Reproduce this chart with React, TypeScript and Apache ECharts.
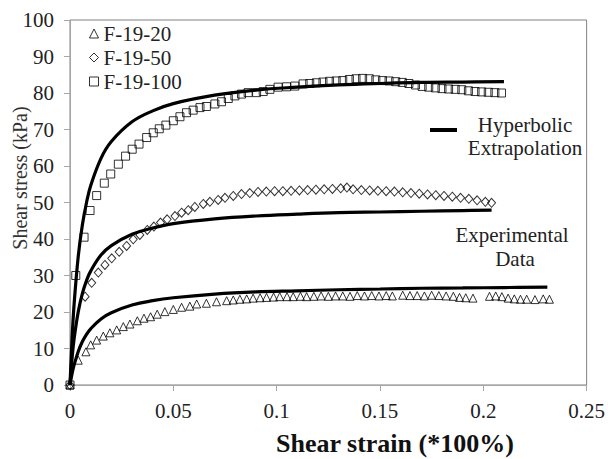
import React, { useEffect, useRef } from "react";
import * as echarts from "echarts";

// Shear strain (fraction) / shear stress (kPa) test readings
const f19_20: [number, number][] = [
  [0, 0], [0.004, 6.8], [0.0077, 9.1], [0.01, 11.0], [0.0129, 12.3], [0.0161, 13.4],
  [0.0193, 14.3], [0.0226, 15.1], [0.0258, 16.0], [0.029, 16.7], [0.0326, 17.6],
  [0.0358, 18.3], [0.039, 18.7], [0.0422, 19.4], [0.0459, 20.1], [0.05, 20.7],
  [0.054, 21.3], [0.058, 21.6], [0.0613, 22.2], [0.066, 22.4], [0.0709, 22.8],
  [0.0758, 23.1], [0.079, 23.3], [0.0822, 23.5], [0.0855, 23.6], [0.0886, 23.8],
  [0.092, 23.9], [0.0951, 24.0], [0.0985, 24.1], [0.1015, 24.2], [0.105, 24.2],
  [0.108, 24.2], [0.1115, 24.3], [0.1145, 24.2], [0.118, 24.3], [0.1215, 24.4],
  [0.125, 24.3], [0.1285, 24.4], [0.132, 24.4], [0.1355, 24.3], [0.139, 24.5],
  [0.1425, 24.4], [0.146, 24.5], [0.1495, 24.4], [0.153, 24.5], [0.156, 24.4],
  [0.161, 24.6], [0.1645, 24.5], [0.168, 24.5], [0.1715, 24.4], [0.175, 24.6],
  [0.1785, 24.5], [0.182, 24.4], [0.1855, 24.3], [0.1885, 24.0], [0.1915, 23.9],
  [0.195, 23.8], [0.203, 24.3], [0.206, 24.4], [0.209, 24.2], [0.212, 23.8],
  [0.215, 23.6], [0.218, 23.5], [0.221, 23.5], [0.225, 23.4], [0.229, 23.6],
  [0.232, 23.5],
];

const f19_50: [number, number][] = [
  [0, 0], [0.0073, 24.2], [0.0105, 28.0], [0.0137, 30.8], [0.0169, 32.9],
  [0.0202, 34.7], [0.0238, 36.5], [0.0274, 38.1], [0.0306, 39.9], [0.0338, 41.1],
  [0.0374, 42.5], [0.0406, 43.4], [0.0438, 44.5], [0.047, 45.4], [0.0508, 46.3],
  [0.054, 47.2], [0.0572, 47.9], [0.0604, 48.8], [0.0645, 49.6], [0.0677, 50.2],
  [0.0717, 50.7], [0.075, 51.3], [0.079, 51.8], [0.083, 52.3], [0.087, 52.6],
  [0.091, 52.9], [0.095, 53.0], [0.099, 53.1], [0.103, 53.1], [0.107, 53.2],
  [0.111, 53.3], [0.115, 53.4], [0.119, 53.5], [0.123, 53.6], [0.127, 53.7],
  [0.131, 53.9], [0.134, 54.1], [0.137, 53.6], [0.141, 53.4], [0.145, 53.3],
  [0.149, 53.2], [0.153, 53.1], [0.157, 53.0], [0.161, 52.8], [0.165, 52.6],
  [0.169, 52.4], [0.173, 52.2], [0.177, 52.0], [0.181, 51.8], [0.185, 51.6],
  [0.189, 51.3], [0.193, 51.0], [0.197, 50.6], [0.201, 50.2], [0.204, 49.9],
];

const f19_100: [number, number][] = [
  [0, 0], [0.0028, 30.0], [0.0068, 40.5], [0.0097, 47.8], [0.0129, 51.9],
  [0.0166, 55.3], [0.0197, 57.8], [0.0234, 60.5], [0.0269, 62.7], [0.0301, 64.6],
  [0.0334, 66.0], [0.0371, 67.8], [0.0403, 69.1], [0.0432, 70.2], [0.0464, 71.2],
  [0.05, 72.4], [0.0532, 73.5], [0.0564, 74.6], [0.0596, 75.3], [0.0629, 76.0],
  [0.066, 76.3], [0.0701, 77.0], [0.0733, 77.6], [0.0766, 78.5], [0.0798, 79.2],
  [0.083, 79.7], [0.0862, 80.1], [0.0903, 80.1], [0.0935, 80.4], [0.0967, 81.0],
  [0.1007, 81.6], [0.1048, 81.7], [0.1088, 81.9], [0.1128, 82.5], [0.116, 82.6],
  [0.1192, 82.8], [0.1224, 83.0], [0.1256, 83.2], [0.1288, 83.3], [0.132, 83.4],
  [0.1352, 83.7], [0.1384, 83.9], [0.1416, 84.0], [0.1448, 83.9], [0.148, 83.6],
  [0.1512, 83.4], [0.1544, 83.3], [0.1576, 83.1], [0.1608, 82.9], [0.164, 82.6],
  [0.1672, 82.2], [0.1704, 81.8], [0.1736, 81.6], [0.1768, 81.4], [0.18, 81.2],
  [0.1832, 81.1], [0.1864, 81.0], [0.1896, 80.9], [0.1928, 80.6], [0.196, 80.4],
  [0.1992, 80.3], [0.2024, 80.2], [0.2056, 80.1], [0.2088, 80.0],
];

// Hyperbolic extrapolation curves
const fit20: [number, number][] = [
  [0, 0], [0.001, 3.1], [0.002, 5.5], [0.004, 9.2], [0.006, 11.9], [0.008, 13.9],
  [0.01, 15.4], [0.015, 18.1], [0.02, 19.8], [0.03, 21.9], [0.04, 23.1], [0.05, 23.9],
  [0.07, 24.9], [0.09, 25.5], [0.11, 25.8], [0.13, 26.1], [0.15, 26.3], [0.17, 26.5],
  [0.19, 26.6], [0.21, 26.7], [0.231, 26.8],
];

const fit50: [number, number][] = [
  [0, 0], [0.001, 7.3], [0.002, 12.7], [0.004, 20.1], [0.006, 25.1], [0.008, 28.6],
  [0.01, 31.2], [0.015, 35.6], [0.02, 38.2], [0.03, 41.3], [0.04, 43.0], [0.05, 44.2],
  [0.07, 45.5], [0.09, 46.3], [0.11, 46.8], [0.13, 47.2], [0.15, 47.4], [0.17, 47.6],
  [0.19, 47.8], [0.204, 47.9],
];

const fit100: [number, number][] = [
  [0, 0], [0.001, 12.7], [0.002, 22.2], [0.004, 35.3], [0.006, 43.9], [0.008, 50.0],
  [0.01, 54.6], [0.015, 62.1], [0.02, 66.7], [0.03, 72.1], [0.04, 75.1], [0.05, 77.1],
  [0.07, 79.4], [0.09, 80.8], [0.11, 81.6], [0.13, 82.2], [0.15, 82.6], [0.17, 82.9],
  [0.19, 83.0], [0.21, 83.1],
];

const seriesNames = ["F-19-20", "F-19-50", "F-19-100"];
const symbols = ["triangle", "diamond", "rect"];
const xTitle = "Shear strain (*100%)";
const yTitle = "Shear stress (kPa)";

const SERIF = "Liberation Serif";

export default function App() {
  const ref = useRef<HTMLDivElement>(null);

  useEffect(() => {
    if (!ref.current) return;
    const chart = echarts.init(ref.current, null, { renderer: "svg" });

    const scatterData = [f19_20, f19_50, f19_100];
    const fits = [fit20, fit50, fit100];

    const markerStyle = {
      color: "rgba(255,255,255,0)",
      borderColor: "#000",
      borderWidth: 1,
    };

    const series: any[] = [];
    fits.forEach((d, i) => {
      series.push({
        type: "line",
        name: "fit" + i,
        data: d,
        smooth: 0.4,
        showSymbol: false,
        lineStyle: { color: "#000", width: 3.2 },
        z: 2,
      });
    });
    scatterData.forEach((d, i) => {
      series.push({
        type: "scatter",
        name: seriesNames[i],
        data: d,
        symbol: symbols[i],
        symbolSize: i === 1 ? [8, 9] : 8,
        itemStyle: markerStyle,
        z: 3,
      });
    });

    const txt = (text: string, x: number, y: number, extra: any = {}) => ({
      type: "text",
      x,
      y,
      style: {
        text,
        fontFamily: SERIF,
        fontSize: 21,
        fill: "#222",
        align: "center",
        verticalAlign: "middle",
        ...extra,
      },
    });

    chart.setOption({
      animation: false,
      backgroundColor: "#fff",
      grid: {
        left: 70,
        right: 21,
        top: 20,
        bottom: 74,
        show: true,
        borderColor: "#808080",
        borderWidth: 1,
      },
      legend: {
        data: seriesNames.map((n, i) => ({ name: n, icon: symbols[i] })),
        orient: "vertical",
        left: 84,
        top: 18,
        itemWidth: 9,
        itemHeight: 9,
        itemGap: 3,
        itemStyle: { color: "rgba(255,255,255,0)", borderColor: "#000", borderWidth: 1 },
        textStyle: { fontFamily: SERIF, fontSize: 21, color: "#222" },
        selectedMode: false,
      },
      xAxis: {
        type: "value",
        min: 0,
        max: 0.25,
        interval: 0.05,
        splitLine: { show: false },
        axisLine: { lineStyle: { color: "#a6a6a6", width: 1 } },
        axisTick: { show: true, length: 6, lineStyle: { color: "#a6a6a6" } },
        axisLabel: {
          fontFamily: SERIF,
          fontSize: 21,
          color: "#222",
          margin: 15,
          formatter: (v: number) => String(parseFloat(v.toFixed(2))),
        },
      },
      yAxis: {
        type: "value",
        min: 0,
        max: 100,
        interval: 10,
        splitLine: { show: false },
        axisLine: { show: true, lineStyle: { color: "#a6a6a6", width: 1 } },
        axisTick: { show: true, length: 6, lineStyle: { color: "#a6a6a6" } },
        axisLabel: { fontFamily: SERIF, fontSize: 21, color: "#222", margin: 16 },
      },
      graphic: [
        {
          type: "text",
          left: 276,
          top: 430,
          style: {
            text: xTitle,
            fontFamily: SERIF,
            fontSize: 26,
            fontWeight: "bold",
            fill: "#111",
          },
        },
        {
          type: "text",
          x: 20,
          y: 178,
          rotation: Math.PI / 2,
          style: {
            text: yTitle,
            fontFamily: SERIF,
            fontSize: 20,
            fill: "#333",
            align: "center",
            verticalAlign: "middle",
          },
        },
        {
          type: "line",
          shape: { x1: 430, y1: 130, x2: 457, y2: 130 },
          style: { stroke: "#000", lineWidth: 4 },
        },
        txt("Hyperbolic", 525, 125),
        txt("Extrapolation", 525, 148),
        txt("Experimental", 512, 235),
        txt("Data", 515, 259),
      ],
      series,
    });

    return () => chart.dispose();
  }, []);

  return (
    <div
      ref={ref}
      style={{ position: "fixed", left: 0, top: 0, width: 608, height: 459, background: "#fff" }}
    />
  );
}
